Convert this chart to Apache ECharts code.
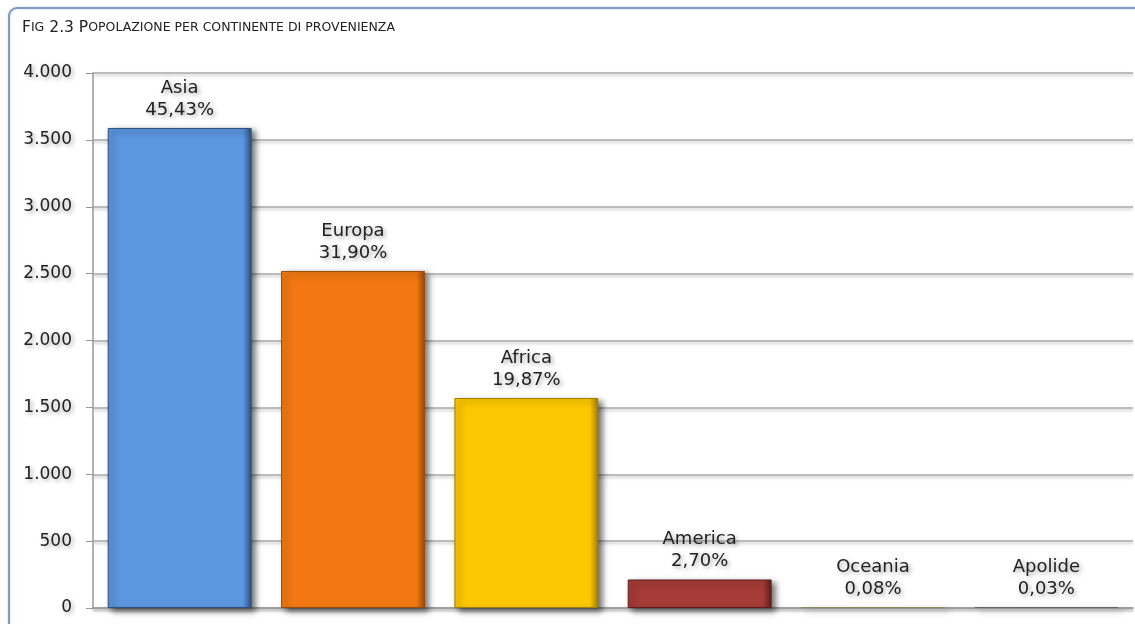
<!DOCTYPE html>
<html>
<head>
<meta charset="utf-8">
<script src="https://cdn.jsdelivr.net/npm/echarts@6/dist/echarts.min.js"></script>
<style>
html,body{margin:0;padding:0;background:#fff;}
#c{width:1135px;height:624px;}
</style>
</head>
<body>
<div id="c"></div>
<script>
var categories = ['Asia', 'Europa', 'Africa', 'America', 'Oceania', 'Apolide'];
var values = [3589, 2520, 1570, 213, 6, 2];
var percents = ['45,43%', '31,90%', '19,87%', '2,70%', '0,08%', '0,03%'];
var colors = ['#5b96df', '#f37813', '#fdc700', '#a63b37', '#9c9c72', '#7e7e8e'];
var edgeColors = ['#2c4f7d', '#9a4a08', '#a07e00', '#5e1f1c', '#8a8a5e', '#66666f'];
var yTicks = [0, 500, 1000, 1500, 2000, 2500, 3000, 3500, 4000];

function fmt(v) {
  return String(v).replace(/\B(?=(\d{3})+(?!\d))/g, '.');
}

var chart = echarts.init(document.getElementById('c'), null, {renderer: 'canvas'});
var txtShadow = {textShadowColor: 'rgba(0,0,0,0.35)', textShadowBlur: 4, textShadowOffsetX: 2, textShadowOffsetY: 2};

var option = {
  backgroundColor: '#fff',
  animation: false,
  graphic: [{
    type: 'rect',
    shape: {x: 9, y: 8, width: 1140, height: 630, r: 8},
    style: {fill: 'none', stroke: '#7f9dc0', lineWidth: 2, shadowColor: 'rgba(120,150,190,0.35)', shadowBlur: 3},
    z: 0
  }],
  title: {
    left: 17, top: 14,
    text: '{b|F}{s|IG} {b|2.3 P}{s|OPOLAZIONE PER CONTINENTE DI PROVENIENZA}',
    textStyle: {
      fontWeight: 'normal',
      rich: {
        b: {fontFamily: 'DejaVu Sans', fontSize: 15.5, fontWeight: 'normal', color: '#222'},
        s: {fontFamily: 'DejaVu Sans', fontSize: 12.5, fontWeight: 'normal', color: '#222'}
      }
    }
  },
  grid: {left: 93, right: 2, top: 73, bottom: 16, containLabel: false},
  xAxis: {
    type: 'category',
    data: categories,
    axisLine: {show: true, lineStyle: {color: '#999', width: 1.5, shadowColor: 'rgba(0,0,0,0.3)', shadowBlur: 3, shadowOffsetY: 2}},
    axisTick: {show: false},
    axisLabel: {show: false}
  },
  yAxis: {
    type: 'value',
    min: 0, max: 4000, interval: 500,
    axisLine: {show: true, lineStyle: {color: '#999', width: 1.5}},
    axisTick: {show: true, length: 7, lineStyle: {color: '#999'}},
    axisLabel: Object.assign({
      margin: 21,
      fontFamily: 'DejaVu Sans', fontSize: 17, color: '#222',
      formatter: function (v) { return yTicks.indexOf(v) >= 0 ? fmt(v) : ''; }
    }, txtShadow),
    splitLine: {show: true, lineStyle: {color: '#a8a8a8', width: 1.5, shadowColor: 'rgba(0,0,0,0.25)', shadowBlur: 3, shadowOffsetY: 2}}
  },
  series: [{
    type: 'bar',
    barWidth: '83%',
    barMinHeight: 1,
    data: values.map(function (v, i) {
      return {
        value: v,
        itemStyle: {
          color: {
            type: 'linear', x: 0, y: 0, x2: 1, y2: 0,
            colorStops: [
              {offset: 0, color: colors[i]},
              {offset: 0.94, color: colors[i]},
              {offset: 1, color: edgeColors[i]}
            ]
          },
          borderColor: edgeColors[i],
          borderWidth: 1
        }
      };
    }),
    itemStyle: {
      shadowColor: 'rgba(0,0,0,0.55)', shadowBlur: 6, shadowOffsetX: 4, shadowOffsetY: 3
    },
    label: Object.assign({
      show: true,
      position: 'top',
      distance: 7,
      fontFamily: 'DejaVu Sans', fontSize: 18, color: '#222', lineHeight: 22,
      formatter: function (p) { return p.name + '\n' + percents[p.dataIndex]; }
    }, txtShadow),
    z: 3
  }]
};
chart.setOption(option);
</script>
</body>
</html>
